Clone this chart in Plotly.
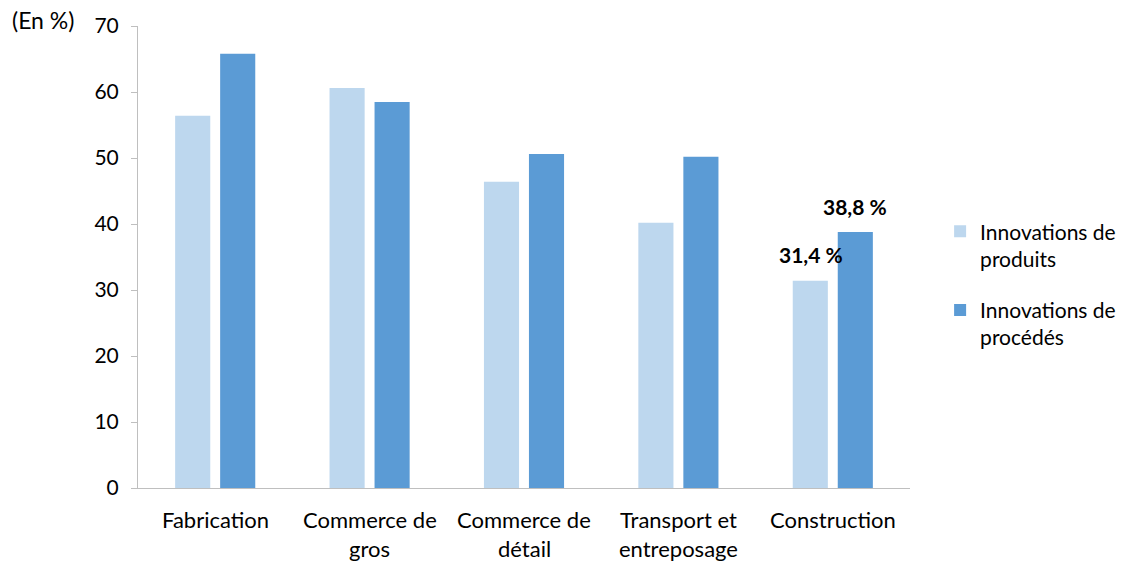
import plotly.graph_objects as go

categories = ["Fabrication", "Commerce de gros", "Commerce de détail", "Transport et entreposage", "Construction"]
label_line1 = ["Fabrication", "Commerce de", "Commerce de", "Transport et", "Construction"]
label_line2 = ["", "gros", "détail", "entreposage", ""]
produits = [56.4, 60.6, 46.4, 40.2, 31.4]
procedes = [65.8, 58.5, 50.6, 50.2, 38.8]
series_names = ["Innovations de<br>produits", "Innovations de<br>procédés"]
y_ticks = [0, 10, 20, 30, 40, 50, 60, 70]

FONT = "Lato"
fig = go.Figure()
fig.add_trace(go.Bar(x=categories, y=produits, name=series_names[0],
                     marker=dict(color="#BDD7EE", line=dict(width=0)), legendgroup="a"))
fig.add_trace(go.Bar(x=categories, y=procedes, name=series_names[1],
                     marker=dict(color="#5B9BD5", line=dict(width=0)), legendgroup="b"))

# value labels on Construction
fig.add_annotation(x=categories[4], y=produits[4], text="<b>31,4 %</b>", showarrow=False,
                   xshift=-22, yshift=26, font=dict(family=FONT, size=21, color="black"))
fig.add_annotation(x=categories[4], y=procedes[4], text="<b>38,8 %</b>", showarrow=False,
                   xshift=22, yshift=25, font=dict(family=FONT, size=21, color="black"))

# category labels
for c, l1, l2 in zip(categories, label_line1, label_line2):
    fig.add_annotation(x=c, y=0, text=l1, showarrow=False, yanchor="middle",
                       yshift=-31, font=dict(family=FONT, size=22, color="black"))
    if l2:
        fig.add_annotation(x=c, y=0, text=l2, showarrow=False, yanchor="middle",
                           yshift=-60, font=dict(family=FONT, size=22, color="black"))

fig.add_annotation(x=0, y=1, xref="paper", yref="paper", text="(En %)", showarrow=False,
                   xanchor="left", yanchor="middle", xshift=-128, yshift=6,
                   font=dict(family=FONT, size=23, color="black"))

fig.update_layout(
    width=1128, height=561,
    margin=dict(l=138, r=218, t=26, b=73, autoexpand=False),
    paper_bgcolor="white", plot_bgcolor="white",
    barmode="group", bargap=0.417, bargroupgap=0.22,
    font=dict(family=FONT, size=21, color="black"),
    legend=dict(x=1.039, y=0.44, xanchor="left", yanchor="middle", valign="top",
                font=dict(family=FONT, size=21, color="black"),
                tracegroupgap=21, itemwidth=30),
    showlegend=True,
)
fig.update_xaxes(showticklabels=False, showline=True, linecolor="#BFBFBF", linewidth=1,
                 ticks="", showgrid=False, zeroline=False)
fig.update_yaxes(range=[0, 70], tickvals=y_ticks, showline=True, linecolor="#BFBFBF",
                 linewidth=1, ticks="outside", ticklen=6, tickcolor="#BFBFBF",
                 showgrid=False, zeroline=False, ticklabelstandoff=8,
                 tickfont=dict(family=FONT, size=21, color="black"))

fig.write_html("out.html", config={"displayModeBar": False},
               post_script="document.body.style.margin='0';document.body.style.overflow='hidden';")
